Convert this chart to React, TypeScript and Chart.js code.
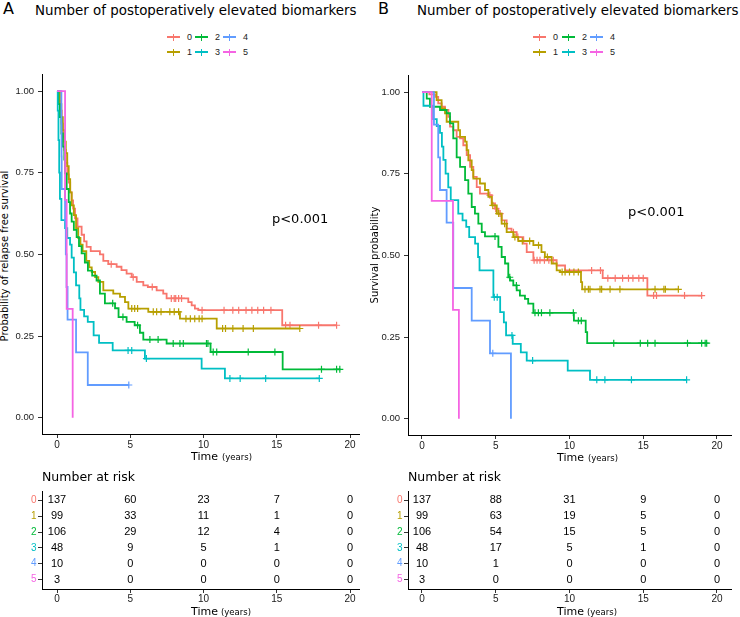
import React, { useEffect, useRef } from "react";
import { Chart, registerables } from "chart.js";

Chart.register(...registerables);
Chart.defaults.font.family = "'Liberation Sans', Arial, sans-serif";

const GROUP_LABELS = ["0", "1", "2", "3", "4", "5"];
const GROUP_COLORS = ["#F8766D", "#B79F00", "#00BA38", "#00BFC4", "#619CFF", "#F564E3"];
const TIME_TICKS = [0, 5, 10, 15, 20];
const SURV_TICKS = [0, 0.25, 0.5, 0.75, 1];
const RISK_TIMES = [0, 5, 10, 15, 20];
const TITLE_TEXT = "Number of postoperatively elevated biomarkers";
const P_LABEL = "p<0.001";
const Y_TITLE_A = "Probability of relapse free survival";
const Y_TITLE_B = "Survival probability";

// ---------- Panel A (relapse free survival) ----------
const a0Time = [0, 0.15, 0.25, 0.32, 0.4, 0.5, 0.6, 0.7, 0.8, 0.9, 1.0, 1.1, 1.23, 1.4, 1.68, 1.85, 2.02, 2.3, 2.93, 3.16, 3.5, 4.07, 4.4, 4.75, 5.1, 5.44, 5.89, 6.2, 6.8, 7.25, 7.48, 8.96, 9.19, 9.41, 9.64, 15.37];
const a0Surv = [1, 0.97, 0.94, 0.9, 0.86, 0.82, 0.78, 0.745, 0.72, 0.69, 0.665, 0.64, 0.61, 0.585, 0.56, 0.54, 0.523, 0.51, 0.5, 0.48, 0.47, 0.462, 0.452, 0.441, 0.43, 0.416, 0.405, 0.4, 0.39, 0.38, 0.365, 0.354, 0.344, 0.334, 0.329, 0.283];
const a0End = 19.08;
const a0Cens = [3.7, 5.2, 6.5, 7.8, 8.0, 8.1, 8.3, 8.5, 9.9, 11.4, 12.0, 12.4, 12.9, 13.3, 13.7, 14.1, 14.6, 15.6, 15.9, 17.85, 19.08];

const a1Time = [0, 0.2, 0.3, 0.4, 0.5, 0.6, 0.7, 0.8, 0.9, 1.0, 1.15, 1.3, 1.45, 1.6, 1.75, 2.0, 2.2, 2.37, 2.6, 2.82, 3.16, 3.84, 4.3, 4.64, 4.87, 6.23, 8.39, 10.9];
const a1Surv = [1, 0.96, 0.92, 0.88, 0.845, 0.81, 0.77, 0.73, 0.69, 0.65, 0.62, 0.58, 0.55, 0.53, 0.51, 0.48, 0.46, 0.446, 0.43, 0.416, 0.39, 0.38, 0.37, 0.354, 0.334, 0.324, 0.303, 0.273];
const a1End = 16.57;
const a1Cens = [5.1, 5.3, 5.5, 6.57, 6.8, 7.1, 7.7, 8.0, 8.3, 8.8, 9.1, 9.4, 9.7, 9.9, 11.3, 11.5, 12.0, 12.7, 13.4, 16.57];

const a2Time = [0, 0.1, 0.2, 0.3, 0.4, 0.5, 0.55, 0.66, 0.8, 0.89, 1.0, 1.15, 1.34, 1.5, 1.68, 1.9, 2.11, 2.4, 2.7, 2.93, 3.27, 3.96, 4.2, 4.75, 5.3, 5.66, 5.89, 7.48, 10.48, 15.4];
const a2Surv = [1, 0.96, 0.92, 0.87, 0.83, 0.79, 0.748, 0.7, 0.66, 0.625, 0.6, 0.575, 0.553, 0.525, 0.503, 0.475, 0.45, 0.435, 0.42, 0.38, 0.35, 0.335, 0.308, 0.293, 0.283, 0.26, 0.239, 0.227, 0.201, 0.148];
const a2End = 19.35;
const a2Cens = [3.8, 4.5, 5.5, 6.34, 6.9, 7.93, 8.39, 8.62, 10.2, 10.3, 10.66, 10.9, 13.05, 14.87, 18.05, 19.08, 19.3];

const a3Time = [0, 0.05, 0.1, 0.15, 0.2, 0.3, 0.55, 0.7, 0.89, 1.0, 1.15, 1.3, 1.52, 1.6, 1.85, 2.1, 2.5, 2.87, 3.8, 6.0, 9.87, 11.46];
const a3Surv = [1, 0.94, 0.85, 0.75, 0.67, 0.605, 0.58, 0.55, 0.53, 0.49, 0.445, 0.405, 0.365, 0.33, 0.31, 0.293, 0.252, 0.229, 0.206, 0.181, 0.15, 0.12];
const a3End = 17.9;
const a3Cens = [4.85, 5.1, 6.1, 11.8, 12.5, 14.24, 17.9];

const a4Time = [0, 0.3, 0.31, 0.32, 0.55, 0.6, 0.65, 0.72, 1.3, 2.1];
const a4Surv = [1, 0.9, 0.8, 0.7, 0.6, 0.5, 0.4, 0.3, 0.2, 0.1];
const a4End = 4.9;
const a4Cens = [4.9];

const a5Time = [0, 0.55, 0.66, 1.07];
const a5Surv = [1, 0.667, 0.333, 0];
const a5End = 1.07;
const a5Cens: number[] = [];

const riskA0 = [137, 60, 23, 7, 0];
const riskA1 = [99, 33, 11, 1, 0];
const riskA2 = [106, 29, 12, 4, 0];
const riskA3 = [48, 9, 5, 1, 0];
const riskA4 = [10, 0, 0, 0, 0];
const riskA5 = [3, 0, 0, 0, 0];

// ---------- Panel B (overall survival) ----------
const b0Time = [0, 0.5, 0.9, 1.1, 1.33, 1.56, 1.79, 1.9, 2.12, 2.35, 2.58, 2.8, 3.03, 3.26, 3.48, 3.71, 3.93, 4.5, 4.73, 4.95, 5.18, 5.4, 5.74, 6.07, 6.42, 6.87, 7.1, 7.55, 9.13, 9.7, 12.25, 15.28];
const b0Surv = [1, 0.993, 0.985, 0.965, 0.955, 0.945, 0.924, 0.894, 0.883, 0.863, 0.858, 0.837, 0.807, 0.771, 0.74, 0.709, 0.689, 0.684, 0.659, 0.643, 0.628, 0.607, 0.582, 0.571, 0.556, 0.536, 0.51, 0.485, 0.469, 0.454, 0.43, 0.377];
const b0End = 19.0;
const b0Cens = [4.6, 5.0, 5.3, 6.2, 6.5, 7.6, 7.8, 8.0, 8.3, 8.6, 8.9, 11.5, 12.1, 12.6, 13.1, 13.6, 14.0, 14.3, 14.7, 15.0, 15.7, 15.9, 17.8, 18.96];

const b1Time = [0, 0.99, 1.33, 1.56, 1.67, 2.46, 2.58, 2.92, 3.03, 3.14, 3.37, 3.48, 3.93, 4.27, 4.5, 4.73, 5.07, 5.4, 5.74, 6.19, 6.53, 7.55, 8.1, 8.33, 8.79, 9.13, 9.36, 10.78, 10.86];
const b1Surv = [1, 0.975, 0.95, 0.935, 0.909, 0.883, 0.863, 0.848, 0.822, 0.791, 0.761, 0.735, 0.72, 0.7, 0.679, 0.653, 0.628, 0.597, 0.571, 0.556, 0.544, 0.531, 0.51, 0.495, 0.475, 0.454, 0.449, 0.418, 0.396];
const b1End = 17.38;
const b1Cens = [4.8, 5.2, 5.6, 6.3, 6.8, 7.3, 7.9, 8.5, 9.5, 9.7, 10.0, 10.3, 10.6, 11.05, 11.28, 11.39, 12.07, 12.18, 12.75, 13.42, 15.8, 16.4, 16.5, 17.38];

const b2Time = [0, 0.32, 0.54, 1.22, 1.67, 1.9, 2.12, 2.35, 2.58, 2.92, 3.14, 3.37, 3.59, 3.82, 4.05, 4.27, 5.18, 5.4, 5.63, 5.85, 5.97, 6.19, 6.42, 6.64, 6.98, 7.2, 7.55, 10.3, 11.1, 11.2];
const b2Surv = [1, 0.98, 0.955, 0.945, 0.935, 0.904, 0.858, 0.8, 0.771, 0.73, 0.689, 0.648, 0.628, 0.597, 0.571, 0.558, 0.526, 0.495, 0.475, 0.433, 0.423, 0.408, 0.393, 0.377, 0.367, 0.352, 0.324, 0.3, 0.265, 0.231];
const b2End = 19.3;
const b2Cens = [4.95, 5.95, 6.4, 7.66, 7.89, 8.1, 8.67, 10.26, 10.6, 10.8, 13.0, 14.8, 15.3, 15.8, 18.0, 18.96, 19.2, 19.3];

const b3Time = [0, 0.1, 0.75, 1.0, 1.22, 1.35, 1.45, 1.6, 1.78, 1.95, 2.46, 2.75, 3.0, 3.2, 3.6, 3.8, 3.9, 4.84, 5.3, 5.55, 5.7, 6.15, 6.7, 7.1, 9.88, 11.39];
const b3Surv = [1, 0.958, 0.917, 0.896, 0.875, 0.833, 0.792, 0.75, 0.708, 0.669, 0.628, 0.607, 0.587, 0.556, 0.536, 0.495, 0.454, 0.372, 0.326, 0.295, 0.255, 0.229, 0.203, 0.178, 0.147, 0.119];
const b3End = 17.94;
const b3Cens = [4.9, 5.1, 6.1, 7.5, 11.85, 12.4, 14.2, 17.94];

const b4Time = [0, 0.81, 1.1, 1.22, 1.67, 2.12, 3.37, 4.61, 6.03];
const b4Surv = [1, 0.9, 0.8, 0.7, 0.6, 0.4, 0.3, 0.2, 0];
const b4End = 6.03;
const b4Cens = [4.8];

const b5Time = [0, 0.66, 2.1, 2.5];
const b5Surv = [1, 0.667, 0.333, 0];
const b5End = 2.5;
const b5Cens: number[] = [];

const riskB0 = [137, 88, 31, 9, 0];
const riskB1 = [99, 63, 19, 5, 0];
const riskB2 = [106, 54, 15, 5, 0];
const riskB3 = [48, 17, 5, 1, 0];
const riskB4 = [10, 1, 0, 0, 0];
const riskB5 = [3, 0, 0, 0, 0];

type Curve = { time: number[]; surv: number[]; end: number; cens: number[] };

const curvesA: Curve[] = [
  { time: a0Time, surv: a0Surv, end: a0End, cens: a0Cens },
  { time: a1Time, surv: a1Surv, end: a1End, cens: a1Cens },
  { time: a2Time, surv: a2Surv, end: a2End, cens: a2Cens },
  { time: a3Time, surv: a3Surv, end: a3End, cens: a3Cens },
  { time: a4Time, surv: a4Surv, end: a4End, cens: a4Cens },
  { time: a5Time, surv: a5Surv, end: a5End, cens: a5Cens },
];
const curvesB: Curve[] = [
  { time: b0Time, surv: b0Surv, end: b0End, cens: b0Cens },
  { time: b1Time, surv: b1Surv, end: b1End, cens: b1Cens },
  { time: b2Time, surv: b2Surv, end: b2End, cens: b2Cens },
  { time: b3Time, surv: b3Surv, end: b3End, cens: b3Cens },
  { time: b4Time, surv: b4Surv, end: b4End, cens: b4Cens },
  { time: b5Time, surv: b5Surv, end: b5End, cens: b5Cens },
];
const riskA = [riskA0, riskA1, riskA2, riskA3, riskA4, riskA5];
const riskB = [riskB0, riskB1, riskB2, riskB3, riskB4, riskB5];

const SANS = "'DejaVu Sans', Verdana, sans-serif";
const ARIAL = "'Liberation Sans', Arial, sans-serif";

function survAt(c: Curve, t: number) {
  let s = c.surv[0];
  for (let i = 0; i < c.time.length; i++) if (c.time[i] <= t) s = c.surv[i];
  return s;
}

function axisCommon(min: number, max: number, ticks: number[], fix: (s: any) => void, size: number, pad: number) {
  return {
    type: "linear" as const,
    min,
    max,
    afterBuildTicks: (s: any) => {
      s.ticks = ticks.map((v) => ({ value: v }));
    },
    afterFit: fix,
    grid: { drawOnChartArea: false, drawTicks: true, tickLength: 4, color: "#333", tickColor: "#333", tickWidth: 1 },
    border: { display: true, color: "#000", width: 1 },
    ticks: { color: "#1a1a1a", font: { size, family: ARIAL }, padding: pad, maxRotation: 0, autoSkip: false },
  };
}

type KMProps = {
  curves: Curve[];
  xMin: number;
  xMax: number;
  yWidth: number;
  xHeight: number;
  padTop: number;
  padRight: number;
  pT: number;
  pS: number;
  left: number;
  top: number;
  width: number;
  height: number;
};

function KMCanvas(p: KMProps) {
  const ref = useRef<HTMLCanvasElement | null>(null);
  useEffect(() => {
    const datasets: any[] = [];
    p.curves.forEach((c, g) => {
      const pts = c.time.map((t, i) => ({ x: t, y: c.surv[i] }));
      if (c.end > c.time[c.time.length - 1]) pts.push({ x: c.end, y: c.surv[c.surv.length - 1] });
      datasets.push({
        label: GROUP_LABELS[g],
        data: pts,
        borderColor: GROUP_COLORS[g],
        backgroundColor: GROUP_COLORS[g],
        borderWidth: 1.8,
        stepped: "before",
        pointRadius: 0,
        fill: false,
        order: 2 * (5 - g) + 1,
      });
      datasets.push({
        label: GROUP_LABELS[g] + " censored",
        data: c.cens.map((t) => ({ x: t, y: survAt(c, t) })),
        showLine: false,
        pointStyle: "cross",
        pointRadius: 3.5,
        pointBorderWidth: 1.2,
        borderColor: GROUP_COLORS[g],
        pointBorderColor: GROUP_COLORS[g],
        backgroundColor: GROUP_COLORS[g],
        order: 2 * (5 - g),
      });
    });
    const pPlugin = {
      id: "pvalue",
      afterDatasetsDraw(chart: any) {
        const ctx = chart.ctx;
        ctx.save();
        ctx.font = `13px ${SANS}`;
        ctx.fillStyle = "#000";
        ctx.textAlign = "left";
        ctx.textBaseline = "middle";
        ctx.fillText(P_LABEL, chart.scales.x.getPixelForValue(p.pT), chart.scales.y.getPixelForValue(p.pS));
        ctx.restore();
      },
    };
    const chart = new Chart(ref.current as HTMLCanvasElement, {
      type: "line",
      data: { datasets },
      options: {
        responsive: false,
        animation: false,
        devicePixelRatio: 1,
        layout: { padding: { left: 0, right: p.padRight, top: p.padTop, bottom: 0 } },
        plugins: { legend: { display: false }, tooltip: { enabled: false }, title: { display: false } },
        scales: {
          x: axisCommon(p.xMin, p.xMax, TIME_TICKS, (s: any) => { s.height = p.xHeight; }, 10, 1),
          y: {
            ...axisCommon(-0.05, 1.05, SURV_TICKS, (s: any) => { s.width = p.yWidth; }, 9.5, 4),
            ticks: { color: "#1a1a1a", font: { size: 9.5, family: ARIAL }, padding: 4, callback: (v: any) => Number(v).toFixed(2) },
          },
        },
      } as any,
      plugins: [pPlugin],
    });
    return () => chart.destroy();
  }, []);
  return (
    <canvas
      ref={ref}
      width={p.width}
      height={p.height}
      style={{ position: "absolute", left: p.left, top: p.top, width: p.width, height: p.height }}
    />
  );
}

type RiskProps = {
  risk: number[][];
  xMin: number;
  xMax: number;
  yWidth: number;
  xHeight: number;
  padTop: number;
  padRight: number;
  left: number;
  top: number;
  width: number;
  height: number;
};

function RiskCanvas(p: RiskProps) {
  const ref = useRef<HTMLCanvasElement | null>(null);
  useEffect(() => {
    const tablePlugin = {
      id: "risktable",
      afterDatasetsDraw(chart: any) {
        const ctx = chart.ctx;
        ctx.save();
        ctx.font = `11px ${ARIAL}`;
        ctx.fillStyle = "#000";
        ctx.textAlign = "center";
        ctx.textBaseline = "middle";
        p.risk.forEach((row, i) => {
          row.forEach((n, j) => {
            ctx.fillText(String(n), chart.scales.x.getPixelForValue(RISK_TIMES[j]), chart.scales.y.getPixelForValue(i));
          });
        });
        ctx.restore();
      },
    };
    const chart = new Chart(ref.current as HTMLCanvasElement, {
      type: "scatter",
      data: { datasets: [{ data: [], pointRadius: 0 }] },
      options: {
        responsive: false,
        animation: false,
        devicePixelRatio: 1,
        layout: { padding: { left: 0, right: p.padRight, top: p.padTop, bottom: 0 } },
        plugins: { legend: { display: false }, tooltip: { enabled: false } },
        scales: {
          x: axisCommon(p.xMin, p.xMax, TIME_TICKS, (s: any) => { s.height = p.xHeight; }, 10, 0),
          y: {
            ...axisCommon(-0.56, 5.6, GROUP_LABELS.map((_, i) => i), (s: any) => { s.width = p.yWidth; }, 10, 1.5),
            reverse: true,
            ticks: {
              font: { size: 10, family: ARIAL },
              padding: 1.5,
              color: (ctx: any) => GROUP_COLORS[ctx.tick ? ctx.tick.value : ctx.index] || "#333",
              callback: (v: any) => GROUP_LABELS[Number(v)],
            },
          },
        },
      } as any,
      plugins: [tablePlugin],
    });
    return () => chart.destroy();
  }, []);
  return (
    <canvas
      ref={ref}
      width={p.width}
      height={p.height}
      style={{ position: "absolute", left: p.left, top: p.top, width: p.width, height: p.height }}
    />
  );
}

function Txt(props: { x: number; base: number; size: number; family?: string; children: React.ReactNode; color?: string }) {
  const fs = props.size;
  return (
    <div
      style={{
        position: "absolute",
        left: props.x,
        top: props.base - 0.846 * fs,
        fontSize: fs,
        lineHeight: `${fs}px`,
        fontFamily: props.family || SANS,
        color: props.color || "#000",
        whiteSpace: "nowrap",
      }}
    >
      {props.children}
    </div>
  );
}

function VTxt(props: { cx: number; cy: number; size: number; children: React.ReactNode }) {
  return (
    <div
      style={{
        position: "absolute",
        left: props.cx,
        top: props.cy,
        fontSize: props.size,
        lineHeight: `${props.size}px`,
        fontFamily: SANS,
        whiteSpace: "nowrap",
        transform: "translate(-50%, -50%) rotate(-90deg)",
        color: "#000",
      }}
    >
      {props.children}
    </div>
  );
}

function Legend(props: { cols: number[]; rows: number[] }) {
  return (
    <>
      {GROUP_LABELS.map((lab, i) => {
        const col = Math.floor(i / 2);
        const row = i % 2;
        const x = props.cols[col];
        const y = props.rows[row];
        return (
          <React.Fragment key={lab}>
            <div style={{ position: "absolute", left: x, top: y - 1, width: 13, height: 2, background: GROUP_COLORS[i] }} />
            <div style={{ position: "absolute", left: x + 6, top: y - 3.5, width: 1.3, height: 7, background: GROUP_COLORS[i] }} />
            <Txt x={x + 20} base={y + 3.3} size={9} family={ARIAL} color="#222">
              {lab}
            </Txt>
          </React.Fragment>
        );
      })}
    </>
  );
}

function TimeLabel(props: { x: number; yearsX: number; base: number }) {
  return (
    <>
      <Txt x={props.x} base={props.base} size={11}>Time</Txt>
      <Txt x={props.yearsX} base={props.base} size={8.5}>(years)</Txt>
    </>
  );
}

export default function App() {
  return (
    <div
      style={{
        position: "fixed",
        left: 0,
        top: 0,
        width: 740,
        height: 617,
        background: "#fff",
        overflow: "hidden",
      }}
    >
      {/* Panel A */}
      <Txt x={3} base={15} size={16}>A</Txt>
      <Txt x={35} base={15} size={13.4}>{TITLE_TEXT}</Txt>
      <Legend cols={[167, 195, 223]} rows={[37, 52]} />
      <VTxt cx={5} cy={256} size={10}>{Y_TITLE_A}</VTxt>
      <KMCanvas
        curves={curvesA}
        xMin={-1.024}
        xMax={20.61}
        yWidth={42}
        xHeight={26}
        padTop={14.7}
        padRight={11}
        pT={14.67}
        pS={0.605}
        left={0}
        top={60}
        width={370}
        height={400}
      />
      <TimeLabel x={191} yearsX={222} base={460} />
      <Txt x={42} base={482} size={12.5}>Number at risk</Txt>
      <RiskCanvas
        risk={riskA}
        xMin={-1.024}
        xMax={20.61}
        yWidth={42}
        xHeight={17}
        padTop={6}
        padRight={11}
        left={0}
        top={484}
        width={370}
        height={122}
      />
      <TimeLabel x={191} yearsX={221} base={615} />

      {/* Panel B */}
      <Txt x={378} base={15} size={16}>B</Txt>
      <Txt x={417} base={15} size={13.4}>{TITLE_TEXT}</Txt>
      <Legend cols={[533, 562, 590]} rows={[37, 52]} />
      <VTxt cx={375} cy={255} size={10}>{Y_TITLE_B}</VTxt>
      <KMCanvas
        curves={curvesB}
        xMin={-0.949}
        xMax={20.95}
        yWidth={38}
        xHeight={25}
        padTop={15.7}
        padRight={9}
        pT={13.97}
        pS={0.632}
        left={370}
        top={60}
        width={370}
        height={400}
      />
      <TimeLabel x={557} yearsX={588} base={461} />
      <Txt x={408} base={482} size={12.5}>Number at risk</Txt>
      <RiskCanvas
        risk={riskB}
        xMin={-0.949}
        xMax={20.95}
        yWidth={38}
        xHeight={17}
        padTop={7}
        padRight={9}
        left={370}
        top={484}
        width={370}
        height={122}
      />
      <TimeLabel x={557} yearsX={587} base={615.5} />
    </div>
  );
}
